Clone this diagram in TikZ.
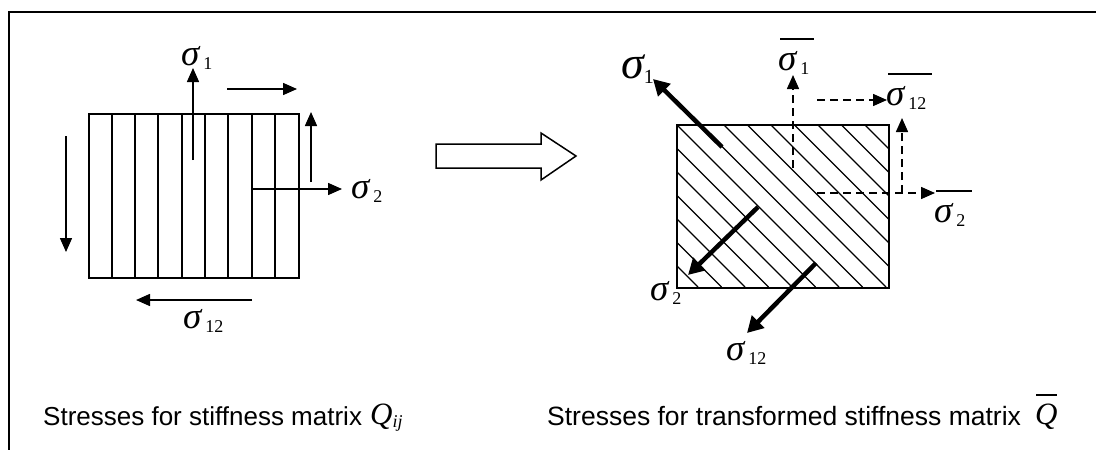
\documentclass[tikz,border=0pt]{standalone}
\usepackage{fontspec}
\setmainfont{Liberation Serif}
\newfontfamily\capfont{Liberation Sans}
\usetikzlibrary{arrows.meta}
\newcommand{\sgm}[2]{{\fontsize{37}{37}\selectfont\itshape σ}\hspace{4pt}\raisebox{-4pt}{\fontsize{18}{18}\selectfont #1}#2}
\newcommand{\sgmbig}[1]{{\fontsize{46}{46}\selectfont\itshape σ}\raisebox{-5pt}{\fontsize{20}{20}\selectfont #1}}
\begin{document}
\begin{tikzpicture}[x=1pt,y=-1pt,
  lbl/.style={inner sep=0pt,anchor=base west},
  farrow/.style={line width=1.5pt,-{Triangle[length=14pt,width=12pt]}},
  barrow/.style={line width=4.5pt,-{Triangle[length=16pt,width=17pt]}},
  darrow/.style={line width=1.5pt,dash pattern=on 8pt off 5pt,-{Triangle[length=14pt,width=12pt]}},
  plate/.style={draw,line width=1.5pt,inner sep=0pt,anchor=north west},
  captxt/.style={inner sep=0pt,anchor=base west,font=\capfont\fontsize{26.5}{30}\selectfont}]
\useasboundingbox (0,0) rectangle (1096,450);
% frame
\draw[line width=2pt] (9,450) -- (9,12) -- (1096,12);

% ---------- left plate ----------
\node[plate,minimum width=210pt,minimum height=164pt] (L) at (88,113) {};
\foreach \xx in {112,135,158,182,205,228,252,275}
  \draw[line width=1.5pt] (\xx,113) -- (\xx,277);
\coordinate (a1s) at (193,160); \coordinate (a1e) at (193,68);
\coordinate (t1s) at (227,89);  \coordinate (t1e) at (297,89);
\coordinate (r1s) at (311,182); \coordinate (r1e) at (311,112);
\coordinate (a2s) at (252,189); \coordinate (a2e) at (342,189);
\coordinate (l1s) at (66,136);  \coordinate (l1e) at (66,252);
\coordinate (b1s) at (252,300); \coordinate (b1e) at (136,300);
\draw[farrow] (a1s) -- (a1e);
\draw[farrow] (t1s) -- (t1e);
\draw[farrow] (r1s) -- (r1e);
\draw[farrow] (a2s) -- (a2e);
\draw[farrow] (l1s) -- (l1e);
\draw[farrow] (b1s) -- (b1e);
\node[lbl] (s1L) at (181,65) {\sgm{1}{}};
\node[lbl] (s2L) at (351,198) {\sgm{2}{}};
\node[lbl] (s12L) at (183,328) {\sgm{12}{}};

% ---------- block arrow ----------
\draw[line width=1.5pt,fill=white] (436,144) -- (541,144) -- (541,133) -- (576,156)
  -- (541,180) -- (541,168) -- (436,168) -- cycle;

% ---------- right plate ----------
\node[plate,minimum width=212pt,minimum height=163pt] (R) at (676,124) {};
\begin{scope}
  \clip (676,124) rectangle (888,287);
  \foreach \k in {-7,...,9}
    \draw[line width=1.3pt] ({676+23.5*\k},124) -- ({676+23.5*\k+163},287);
\end{scope}
\node[plate,minimum width=212pt,minimum height=163pt] at (676,124) {};
\coordinate (b1s2) at (722,147); \coordinate (b1e2) at (653,79);
\coordinate (b2s) at (758,207);  \coordinate (b2e) at (688,275);
\coordinate (b3s) at (816,263);  \coordinate (b3e) at (747,333);
\draw[barrow] (b1s2) -- (b1e2);
\draw[barrow] (b2s) -- (b2e);
\draw[barrow] (b3s) -- (b3e);
\node[lbl] (s1R) at (621,78) {\sgmbig{1}};
\node[lbl] (s2R) at (650,300) {\sgm{2}{}};
\node[lbl] (s12R) at (726,360) {\sgm{12}{}};

\coordinate (d1s) at (793,168); \coordinate (d1e) at (793,75);
\coordinate (d2s) at (817,100); \coordinate (d2e) at (887,100);
\coordinate (d3s) at (902,193); \coordinate (d3e) at (902,118);
\coordinate (d4s) at (817,193); \coordinate (d4e) at (935,193);
\draw[darrow] (d1s) -- (d1e);
\draw[darrow] (d2s) -- (d2e);
\draw[darrow] (d3s) -- (d3e);
\draw[darrow] (d4s) -- (d4e);
\node[lbl] (sb1) at (778,70) {\sgm{1}{}};
\node[lbl] (sb12) at (886,105) {\sgm{12}{}};
\node[lbl] (sb2) at (934,222) {\sgm{2}{}};
\draw[line width=1.3pt] (780,39) -- (814,39);
\draw[line width=1.3pt] (888,74) -- (932,74);
\draw[line width=1.3pt] (936,191) -- (972,191);

% ---------- captions ----------
\node[captxt,font=\capfont\fontsize{26}{30}\selectfont] (capL) at (43,425) {Stresses for stiffness matrix};
\node[lbl] (QL) at (370,424) {{\fontsize{31}{31}\selectfont\itshape Q}\raisebox{-3pt}{\fontsize{18}{18}\selectfont\itshape ij}};
\node[captxt] (capR) at (547,425) {Stresses for transformed stiffness matrix};
\node[lbl] (QR) at (1035,424) {{\fontsize{31}{31}\selectfont\itshape Q}};
\draw[line width=1.3pt] (1036,395) -- (1057,395);
\end{tikzpicture}
\end{document}
